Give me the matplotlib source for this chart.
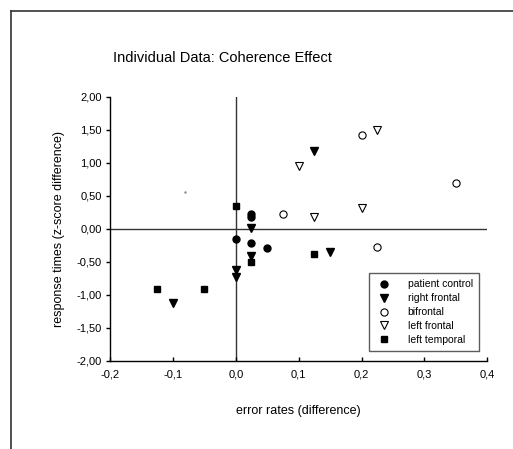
import matplotlib
matplotlib.use("Agg")
from matplotlib import pyplot as plt
from matplotlib.ticker import FuncFormatter
from matplotlib.lines import Line2D

plt.rcParams['font.family'] = ['Liberation Sans', 'DejaVu Sans']

# data
pc_x = [0.0, 0.025, 0.025, 0.025, 0.05]
pc_y = [-0.15, 0.22, 0.18, -0.21, -0.30]

rf_x = [0.125, 0.025, 0.025, 0.0, 0.0, -0.1, 0.15]
rf_y = [1.18, 0.01, -0.42, -0.62, -0.73, -1.12, -0.35]

bf_x = [0.2, 0.075, 0.35, 0.225]
bf_y = [1.42, 0.22, 0.70, -0.27]

lf_x = [0.225, 0.1, 0.125, 0.2]
lf_y = [1.50, 0.95, 0.18, 0.31]

lt_x = [0.0, 0.025, 0.125, -0.05, -0.125]
lt_y = [0.35, -0.51, -0.38, -0.92, -0.92]

labels = ["patient control", "right frontal", "bifrontal", "left frontal", "left temporal"]

fig = plt.figure(figsize=(5.13, 4.49), dpi=100)
ax = fig.add_axes([0.2144, 0.1967, 0.7355, 0.5879])

ms = 5
ax.plot(pc_x, pc_y, 'o', color='black', ms=ms, zorder=3)
ax.plot(rf_x, rf_y, 'v', color='black', ms=ms + 0.5, zorder=3)
ax.plot(bf_x, bf_y, 'o', mfc='white', mec='black', mew=0.8, ms=ms + 0.2, zorder=3)
ax.plot(lf_x, lf_y, 'v', mfc='white', mec='black', mew=0.8, ms=ms + 0.5, zorder=3)
ax.plot(lt_x, lt_y, 's', color='black', ms=ms, zorder=3)
# stray speck in the original
ax.plot([-0.08], [0.555], '.', color='#888888', ms=1.5)

ax.axhline(0, color='#333333', lw=1, zorder=1)
ax.axvline(0, color='#333333', lw=1, zorder=1)

ax.set_xlim(-0.2, 0.4)
ax.set_ylim(-2, 2)
ax.set_xticks([-0.2, -0.1, 0.0, 0.1, 0.2, 0.3, 0.4])
ax.set_yticks([-2, -1.5, -1, -0.5, 0, 0.5, 1, 1.5, 2])
ax.xaxis.set_major_formatter(FuncFormatter(lambda v, p: ("%.1f" % v).replace('.', ',')))
ax.yaxis.set_major_formatter(FuncFormatter(lambda v, p: ("%.2f" % v).replace('.', ',')))
ax.tick_params(axis='x', direction='in', length=3, width=1, labelsize=8, pad=6)
ax.tick_params(axis='y', direction='out', length=3, width=1, labelsize=8, pad=3)
for s in ['top', 'right']:
    ax.spines[s].set_visible(False)
for s in ['left', 'bottom']:
    ax.spines[s].set_linewidth(1)
    ax.spines[s].set_color('black')

ax.set_xlabel("error rates (difference)", fontsize=9, labelpad=19)
ax.set_ylabel("response times (z-score difference)", fontsize=9, labelpad=8)

fig.text(113 / 513, 1 - 58 / 449, "Individual Data: Coherence Effect",
         fontsize=10.5, ha='left', va='center')

handles = [
    Line2D([], [], ls='', marker='o', color='black', ms=ms),
    Line2D([], [], ls='', marker='v', color='black', ms=ms + 0.5),
    Line2D([], [], ls='', marker='o', mfc='white', mec='black', mew=0.8, ms=ms + 0.2),
    Line2D([], [], ls='', marker='v', mfc='white', mec='black', mew=0.8, ms=ms + 0.5),
    Line2D([], [], ls='', marker='s', color='black', ms=ms),
]
leg = ax.legend(handles, labels, loc='upper left',
                bbox_to_anchor=(369 / 513, 1 - 273 / 449), bbox_transform=fig.transFigure,
                fontsize=7.5, frameon=True, fancybox=False, handletextpad=1.5,
                labelspacing=0.38, borderpad=0.6, handlelength=1.6, borderaxespad=0)
leg.get_frame().set_edgecolor('#333333')
leg.get_frame().set_linewidth(1)

# page border
fig.add_artist(Line2D([11 / 513, 11 / 513], [0, 1 - 11 / 449], color='#333333', lw=1.2))
fig.add_artist(Line2D([11 / 513, 1], [1 - 11 / 449, 1 - 11 / 449], color='#333333', lw=1.2))

fig.savefig("out.png", dpi=100)
